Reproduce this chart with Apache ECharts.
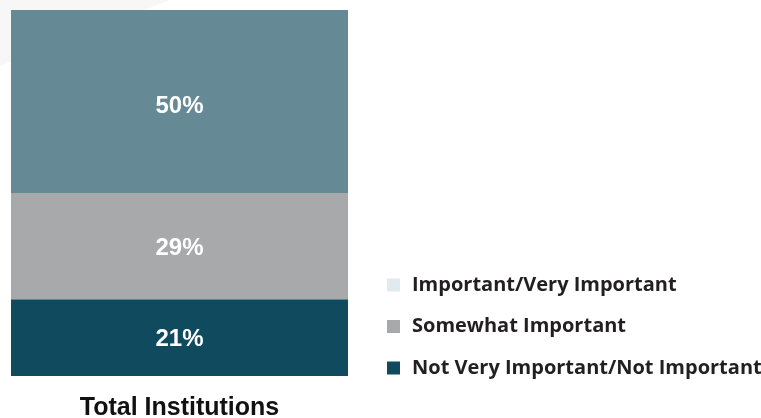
<!DOCTYPE html>
<html>
<head>
<meta charset="utf-8">
<script src="https://cdn.jsdelivr.net/npm/echarts@6/dist/echarts.min.js"></script>
<style>
  html, body { margin: 0; padding: 0; background: #ffffff; }
  #chart { width: 761px; height: 418px; }
</style>
</head>
<body>
<div id="chart"></div>
<script>
// Share of institutions by importance rating
const categories = ['Total Institutions'];
const seriesNames = ['Not Very Important/Not Important', 'Somewhat Important', 'Important/Very Important'];
const notImportant = [21];
const somewhatImportant = [29];
const veryImportant = [50];

const barColors = ['#0f4a5e', '#a7a9ab', '#668a95'];
const legendColors = { 'Important/Very Important': '#e1eaee', 'Somewhat Important': '#a7a9ab', 'Not Very Important/Not Important': '#0f4a5e' };
const legendOrder = ['Important/Very Important', 'Somewhat Important', 'Not Very Important/Not Important'];

const chart = echarts.init(document.getElementById('chart'));

function stackSeries(name, data, color, labelOffset) {
  return {
    name: name,
    type: 'bar',
    stack: 'total',
    data: data,
    barWidth: '100%',
    itemStyle: { color: color },
    label: {
      show: true,
      position: 'inside',
      offset: labelOffset,
      formatter: '{c}%',
      color: '#ffffff',
      fontFamily: 'Liberation Sans, Arial, sans-serif',
      fontWeight: 'bold',
      fontSize: 24
    },
    emphasis: { disabled: true }
  };
}

chart.setOption({
  animation: false,
  graphic: [{
    type: 'polygon',
    z: -10,
    shape: { points: [[0, 0], [170, 0], [0, 66]] },
    style: { fill: '#f7f7f7' }
  }],
  grid: { left: 11, right: 413, top: 10, bottom: 42, containLabel: false, outerBoundsMode: 'none' },
  xAxis: {
    type: 'category',
    data: categories,
    axisLine: { show: false },
    axisTick: { show: false },
    axisLabel: {
      color: '#111111',
      fontFamily: 'Liberation Sans, Arial, sans-serif',
      fontWeight: 'bold',
      fontSize: 25,
      margin: 20
    }
  },
  yAxis: {
    type: 'value',
    min: 0,
    max: 100,
    show: false,
    splitLine: { show: false }
  },
  legend: {
    orient: 'vertical',
    left: 382,
    top: 270,
    itemWidth: 13,
    itemHeight: 13,
    itemGap: 21.5,
    icon: 'rect',
    selectedMode: false,
    data: legendOrder.map(n => ({ name: n, itemStyle: { color: legendColors[n] } })),
    textStyle: {
      color: '#231f20',
      fontFamily: 'Open Sans, sans-serif',
      fontWeight: 'bold',
      fontSize: 20,
      lineHeight: 20,
      padding: [0, 0, 0, 7]
    }
  },
  series: [
    stackSeries(seriesNames[0], notImportant, barColors[0], [0, 2]),
    stackSeries(seriesNames[1], somewhatImportant, barColors[1], [0, 2]),
    stackSeries(seriesNames[2], veryImportant, barColors[2], [0, 5])
  ]
});
</script>
</body>
</html>
